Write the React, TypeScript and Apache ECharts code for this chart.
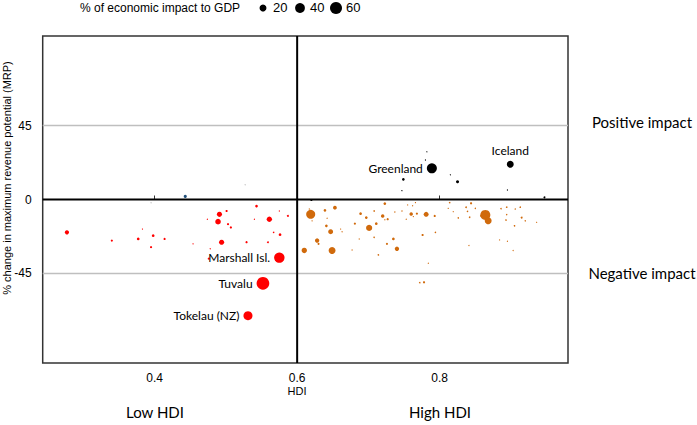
import React, { useEffect, useRef } from "react";
import * as echarts from "echarts";

// [HDI, % change in MRP, % of economic impact to GDP]
const lowHdiPoints: [number, number, number][] = [
  [0.277, -20, 7], [0.34, -25, 2], [0.377, -24, 3], [0.398, -22, 3], [0.414, -24, 2],
  [0.395, -29, 2], [0.383, -18, 0.6], [0.454, -27, 0.6], [0.478, -30, 0.6], [0.476, -36, 2],
  [0.474, -12, 0.6], [0.491, -9, 11], [0.501, -7, 2], [0.489, -13.5, 13], [0.503, -15, 2],
  [0.507, -17, 2], [0.494, -26, 11], [0.529, -26, 2], [0.543, -4, 3], [0.54, -12, 0.6],
  [0.561, -12, 12], [0.575, -7, 0.6], [0.587, -10, 1.5], [0.567, -20, 1], [0.576, -21.4, 3],
  [0.559, -26, 1.5],
];
const lowHdiNamed: [number, number, number, string][] = [
  [0.575, -35.4, 45, "Marshall Isl."],
  [0.552, -51, 67, "Tuvalu"],
  [0.531, -70.7, 34, "Tokelau (NZ)"],
];
const highHdiPoints: [number, number, number][] = [
  [0.619, -9, 34], [0.639, -6.6, 3], [0.653, -5, 6], [0.641, -16, 3], [0.647, -19.6, 10],
  [0.628, -25, 8], [0.63, -27, 2], [0.61, -31, 12], [0.649, -31, 20], [0.723, -2.5, 3],
  [0.689, -8.6, 3], [0.708, -7, 1], [0.697, -11, 3], [0.72, -10, 5], [0.711, -14.7, 3],
  [0.727, -12, 2], [0.681, -14.7, 2], [0.701, -17.3, 16], [0.708, -23, 1], [0.735, -24, 3],
  [0.726, -27, 2], [0.74, -30, 8], [0.714, -33.7, 1], [0.677, -30.7, 0.6], [0.661, -18, 0.6],
  [0.663, -19.6, 0.6], [0.737, -7.6, 0.8], [0.747, -7, 0.8], [0.753, -12, 0.6], [0.763, -10.4, 0.6],
  [0.76, -8.8, 5], [0.768, -8.6, 2], [0.781, -9, 10], [0.793, -10, 2], [0.776, -21.6, 2],
  [0.794, -20, 1], [0.784, -38.8, 0.5], [0.772, -50.6, 1], [0.778, -50.4, 2], [0.814, -1.9, 1],
  [0.844, -2.3, 2], [0.812, -5.4, 0.6], [0.819, -7.4, 0.6], [0.826, -11.2, 1], [0.837, -4.7, 1.2],
  [0.842, -10.8, 1], [0.85, -5.4, 0.8], [0.864, -9.4, 42], [0.868, -13, 20], [0.858, -10, 1.5],
  [0.886, -5.6, 1], [0.894, -4.7, 1], [0.906, -5.8, 0.8], [0.913, -4.7, 1], [0.893, -12.5, 1],
  [0.905, -16, 1], [0.915, -11, 1.5], [0.92, -13, 0.8], [0.936, -13.9, 0.6], [0.841, -28, 0.6],
  [0.884, -24.6, 0.6], [0.895, -25.4, 0.6], [0.903, -31, 0.6], [0.894, -9.2, 0.8], [0.839, -7.2, 1],
  [0.617, -5.8, 0.6], [0.621, -13, 0.6], [0.642, -11.4, 0.6], [0.687, -24, 0.6], [0.755, -3.3, 0.6],
  [0.762, -3.8, 0.6], [0.766, -1.9, 0.6], [0.723, -12.3, 0.6],
];
const positivePoints: [number, number, number][] = [
  [0.749, 12.3, 3], [0.825, 10.8, 4], [0.782, 29, 0.5], [0.78, 24, 0.5], [0.815, 15, 0.6],
  [0.747, 5.4, 0.5], [0.895, 5.8, 0.5], [0.62, -0.3, 2], [0.947, 1.3, 1.5],
];
const positiveNamed: [number, number, number, string][] = [
  [0.789, 19, 42, "Greenland"],
  [0.899, 21.4, 20, "Iceland"],
];
const otherPoints: [number, number, number][] = [[0.443, 1.9, 4]];
const neutralPoints: [number, number, number][] = [[0.527, 9, 0.6], [0.395, -2, 0.6]];

const legendValues = [20, 40, 60];
const xTicks = [0.4, 0.6, 0.8];
const yTicks = [-45, 0, 45];
const X_MIN = 0.243, X_MAX = 0.98, Y_MIN = -99.5, Y_MAX = 99.5;
const HDI_SPLIT = 0.6;

const sizeOf = (v: number) => Math.max(1.2, 1.55 * Math.sqrt(v));
const LABEL_FONT = "Lato, 'Open Sans', sans-serif";
const ARIAL = "'Liberation Sans', Arial, sans-serif";

export default function App() {
  const ref = useRef<HTMLDivElement>(null);
  useEffect(() => {
    document.body.style.margin = "0";
    if (!ref.current) return;
    const chart = echarts.init(ref.current, null, { renderer: "svg" });
    const scatter = (name: string, pts: any[], color: string, labelPos: string) => ({
      name,
      type: "scatter",
      z: 5,
      data: pts.map((p) => ({
        value: [p[0], p[1], p[2]],
        name: p[3] || "",
        label: p[3]
          ? {
              show: true,
              position: labelPos === "auto" ? (p[3] === "Iceland" ? "top" : "left") : labelPos,
              formatter: p[3],
              color: "#000",
              fontSize: 12,
              fontFamily: LABEL_FONT,
              distance: 4,
            }
          : undefined,
      })),
      symbolSize: (v: number[]) => sizeOf(v[2]),
      itemStyle: { color, opacity: 1 },
      emphasis: { disabled: true },
      silent: true,
    });
    const refLine = (data: number[][], color: string, width: number) => ({
      type: "line",
      data,
      symbol: "none",
      silent: true,
      z: 1,
      lineStyle: { color, width },
    });
    const legendStartX = [263, 300, 336];
    const graphics: any[] = [
      { type: "text", x: 80, y: 2, style: { text: "% of economic impact to GDP", font: `12px ${ARIAL}`, fill: "#000" } },
      ...legendValues.flatMap((v, i) => [
        { type: "circle", shape: { cx: legendStartX[i], cy: 8, r: sizeOf(v) / 2 }, style: { fill: "#000" } },
        { type: "text", x: legendStartX[i] + 10, y: 1, style: { text: String(v), font: `13px ${ARIAL}`, fill: "#000" } },
      ]),
      { type: "text", x: 642, y: 122, style: { text: "Positive impact", font: `15px ${LABEL_FONT}`, fill: "#000", align: "center", verticalAlign: "middle" } },
      { type: "text", x: 642, y: 273, style: { text: "Negative impact", font: `15px ${LABEL_FONT}`, fill: "#000", align: "center", verticalAlign: "middle" } },
      { type: "text", x: 155, y: 412, style: { text: "Low HDI", font: `15px ${LABEL_FONT}`, fill: "#000", align: "center", verticalAlign: "middle" } },
      { type: "text", x: 440, y: 412, style: { text: "High HDI", font: `15px ${LABEL_FONT}`, fill: "#000", align: "center", verticalAlign: "middle" } },
      { type: "text", x: 297, y: 391, style: { text: "HDI", font: `11px ${ARIAL}`, fill: "#000", align: "center", verticalAlign: "middle" } },
      {
        type: "text", x: 7, y: 178, rotation: Math.PI / 2,
        style: { text: "% change in maximum revenue potential (MRP)", font: `11px ${ARIAL}`, fill: "#000", align: "center", verticalAlign: "middle" },
      },
    ];
    chart.setOption({
      animation: false,
      grid: { left: 42.7, right: 129, top: 36, bottom: 62, show: true, borderColor: "#333", borderWidth: 1.5, backgroundColor: "transparent" },
      xAxis: {
        type: "value", min: X_MIN, max: X_MAX,
        axisLine: { show: false },
        splitLine: { show: false },
        axisTick: { show: true, inside: true, length: 4, customValues: xTicks, lineStyle: { color: "#333" } },
        axisLabel: { customValues: xTicks, formatter: (v: number) => v.toFixed(1), color: "#000", fontSize: 12, fontFamily: ARIAL, margin: 9 },
      },
      yAxis: {
        type: "value", min: Y_MIN, max: Y_MAX,
        axisLine: { show: false },
        splitLine: { show: false },
        axisTick: { show: false },
        axisLabel: { customValues: yTicks, color: "#000", fontSize: 12, fontFamily: ARIAL, margin: 11 },
      },
      graphic: graphics,
      series: [
        refLine([[X_MIN, 45], [X_MAX, 45]], "#BFBFBF", 1.5),
        refLine([[X_MIN, -45], [X_MAX, -45]], "#BFBFBF", 1.5),
        refLine([[X_MIN, 0], [X_MAX, 0]], "#000", 2),
        refLine([[HDI_SPLIT, Y_MIN], [HDI_SPLIT, Y_MAX]], "#000", 2),
        scatter("neutral", neutralPoints, "#BBBBBB", "left"),
        scatter("low", [...lowHdiPoints, ...lowHdiNamed], "#FF0000", "left"),
        scatter("high", highHdiPoints, "#D06A0C", "left"),
        scatter("positive", [...positivePoints, ...positiveNamed], "#000000", "auto"),
        scatter("other", otherPoints, "#1F4E79", "left"),
      ],
    });
    return () => chart.dispose();
  }, []);
  return <div ref={ref} style={{ width: 697, height: 425 }} />;
}
